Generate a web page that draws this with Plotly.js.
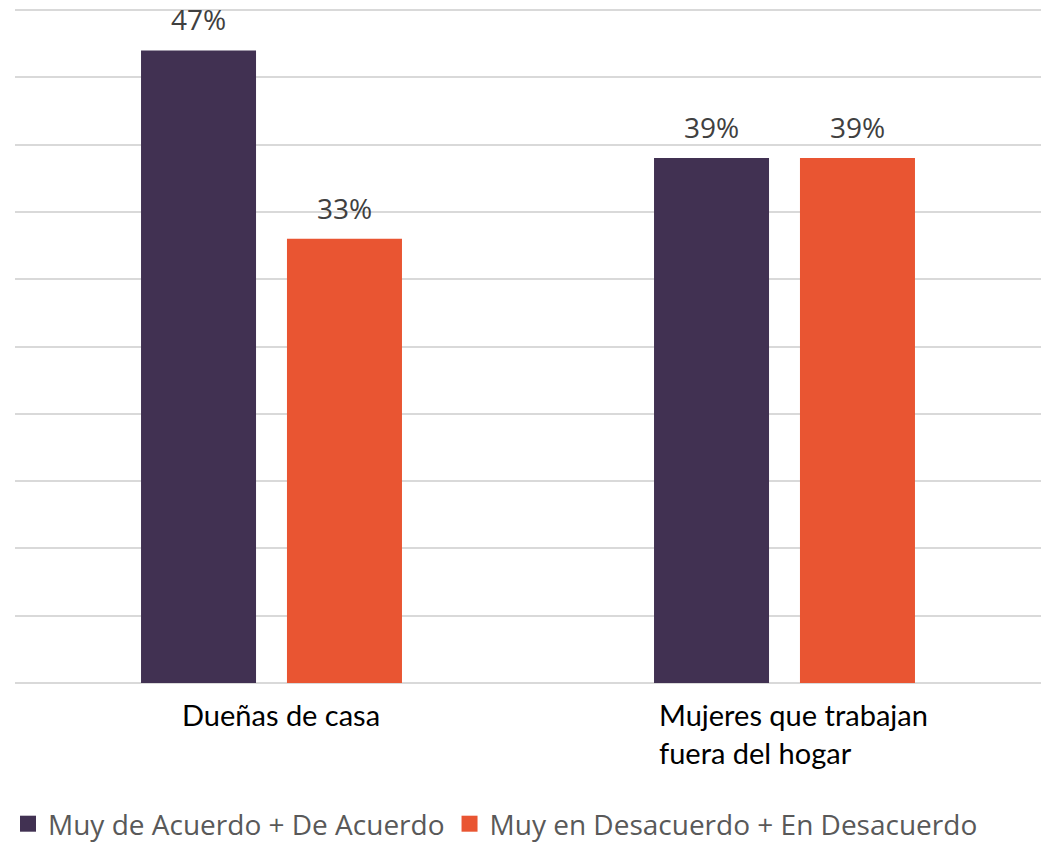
<!DOCTYPE html>
<html>
<head>
<meta charset="utf-8">
<script src="https://cdn.plot.ly/plotly-3.0.1.min.js"></script>
<style>html,body{margin:0;padding:0;background:#fff;}#chart{width:1041px;height:849px;}</style>
</head>
<body>
<div id="chart"></div>
<script>
const categories = ["Dueñas de casa", "Mujeres que trabajan<br>fuera del hogar"];
const seriesNames = ["Muy de Acuerdo + De Acuerdo", "Muy en Desacuerdo + En Desacuerdo"];
const acuerdo = [47, 39];
const desacuerdo = [33, 39];
const colors = ["#413152", "#E95532"];
const seriesValues = [acuerdo, desacuerdo];
const gridValues = [5, 10, 15, 20, 25, 30, 35, 40, 45, 50];

const traces = [];
seriesValues.forEach((vals, i) => {
  traces.push({
    type: "bar",
    x: categories,
    y: vals,
    name: seriesNames[i],
    marker: {color: colors[i]},
    showlegend: false,
    hoverinfo: "skip"
  });
});
// legend proxies (larger square symbols)
seriesValues.forEach((vals, i) => {
  traces.push({
    type: "scatter",
    mode: "markers",
    x: [null], y: [null],
    name: seriesNames[i],
    marker: {color: colors[i], symbol: "square", size: 16},
    showlegend: true,
    hoverinfo: "skip"
  });
});

const annotations = [];
const halfSlot = 73;
seriesValues.forEach((vals, i) => {
  vals.forEach((v, j) => {
    annotations.push({
      x: categories[j], y: v, xref: "x", yref: "y",
      text: v + "%", showarrow: false,
      xshift: (i === 0 ? -halfSlot : halfSlot),
      yanchor: "bottom", yshift: 10,
      font: {family: "Open Sans, sans-serif", size: 28, color: "#404040"}
    });
  });
});
categories.forEach((c, j) => {
  annotations.push({
    x: c, y: 0, xref: "x", yref: "paper",
    text: c, showarrow: false, align: "left",
    xanchor: "center", yanchor: "top", yshift: -12, xshift: 9,
    font: {family: "Lato, sans-serif", size: 29, color: "#000000"}
  });
});

const layout = {
  width: 1041, height: 849,
  margin: {l: 15, r: 0, t: 6, b: 166},
  paper_bgcolor: "#ffffff", plot_bgcolor: "#ffffff",
  barmode: "group",
  bargap: 0.431,
  bargroupgap: 0.212,
  xaxis: {showticklabels: false, showgrid: false, zeroline: false, showline: false, ticks: ""},
  yaxis: {range: [0, 50.3], tickvals: gridValues, showticklabels: false, showgrid: true,
          gridcolor: "#D9D9D9", gridwidth: 2, zeroline: true, zerolinecolor: "#D9D9D9", zerolinewidth: 2, ticks: ""},
  showlegend: true,
  legend: {orientation: "h", x: 0.0077, xanchor: "left", xref: "container", y: 0.0, yanchor: "bottom", yref: "container",
           font: {family: "Open Sans, sans-serif", size: 28, color: "#595959"},
           itemclick: false, itemdoubleclick: false, tracegroupgap: 0},
  annotations: annotations
};

Plotly.newPlot("chart", traces, layout, {displayModeBar: false, staticPlot: true});
</script>
</body>
</html>
